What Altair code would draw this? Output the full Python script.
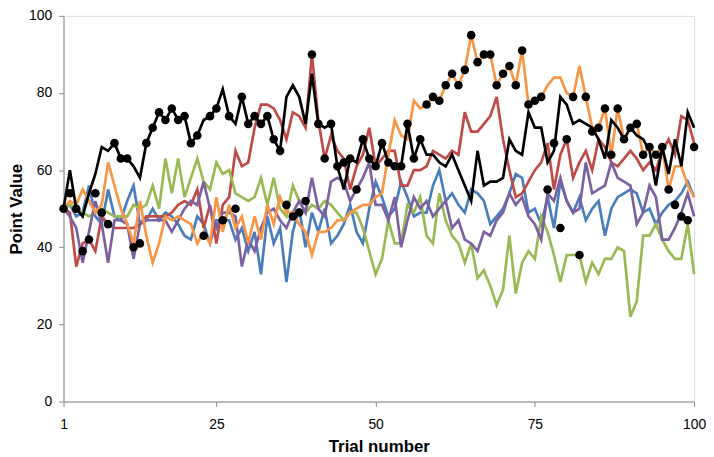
import altair as alt
import pandas as pd

trials = list(range(1, 101))

blue = [50, 51, 48, 49, 56, 48, 46, 55, 48, 47,
        52, 56, 46, 47, 50, 47, 49, 48, 46, 43,
        42, 48, 46, 41, 47, 47, 47, 42, 45, 39,
        44, 33, 48, 41, 45, 31, 44, 50, 40, 49,
        44, 50, 41, 43, 46, 51, 44, 41, 50, 57,
        53, 48, 50, 57, 53, 48, 49, 49, 56, 60,
        52, 54, 51, 49, 55, 54, 52, 46, 48, 50,
        54, 59, 58, 49, 50, 46, 53, 45, 57, 52,
        49, 53, 47, 50, 52, 43, 50, 53, 54, 55,
        54, 49, 50, 46, 49, 51, 52, 54, 57, 53]

red = [50, 49, 35, 41, 42, 39, 48, 46, 45, 45,
       45, 45, 46, 48, 48, 48, 48, 49, 51, 52,
       51, 55, 45, 51, 41, 51, 53, 65, 61, 62,
       71, 77, 77, 76, 73, 68, 75, 74, 71, 90,
       73, 63, 69, 65, 63, 55, 61, 64, 71, 61,
       63, 65, 65, 56, 56, 60, 60, 61, 65, 64,
       63, 65, 64, 75, 70, 70, 72, 74, 79, 68,
       60, 53, 54, 57, 60, 62, 67, 55, 64, 68,
       58, 62, 65, 60, 68, 66, 62, 61, 63, 65,
       63, 60, 62, 60, 65, 68, 64, 74, 73, 67]

green = [50, 51, 50, 49, 48, 49, 50, 49, 48, 48,
         48, 51, 50, 51, 56, 50, 63, 54, 63, 53,
         58, 63, 57, 55, 62, 59, 60, 54, 53, 52,
         53, 58, 51, 58, 50, 48, 56, 52, 49, 51,
         50, 52, 51, 49, 47, 49, 49, 45, 39, 33,
         37, 47, 41, 41, 51, 49, 53, 43, 41, 54,
         47, 43, 41, 36, 41, 32, 34, 30, 25, 29,
         43, 28, 36, 39, 37, 48, 44, 38, 31, 38,
         38, 38, 31, 36, 33, 37, 37, 40, 39, 22,
         26, 43, 43, 46, 42, 39, 37, 37, 46, 33]

purple = [50, 48, 45, 36, 44, 52, 46, 36, 47, 47,
          46, 37, 46, 47, 47, 47, 47, 44, 47, 50,
          52, 51, 57, 50, 45, 49, 49, 48, 35, 42,
          39, 45, 49, 50, 47, 45, 49, 52, 49, 58,
          50, 48, 57, 58, 57, 52, 55, 58, 62, 51,
          51, 47, 53, 40, 47, 53, 50, 52, 48, 50,
          52, 45, 47, 42, 41, 39, 44, 43, 47, 49,
          54, 51, 53, 48, 46, 42, 54, 52, 58, 52,
          49, 50, 62, 54, 55, 56, 62, 58, 57, 56,
          46, 49, 56, 53, 42, 42, 45, 49, 54, 48]

orange = [50, 52, 51, 55, 52, 49, 51, 62, 56, 50,
          46, 41, 52, 43, 36, 41, 48, 47, 48, 47,
          46, 41, 44, 41, 53, 44, 51, 45, 48, 41,
          48, 42, 51, 46, 53, 49, 49, 46, 44, 38,
          44, 44, 45, 47, 47, 49, 50, 51, 51, 53,
          54, 64, 73, 69, 68, 78, 76, 77, 79, 78,
          82, 85, 82, 86, 95, 88, 90, 90, 82, 85,
          87, 82, 91, 77, 78, 79, 82, 84, 84, 80,
          79, 87, 79, 71, 71, 76, 64, 76, 68, 71,
          72, 64, 66, 64, 66, 55, 61, 61, 56, 53]

black = [50, 60, 50, 48, 54, 59, 66, 65, 67, 63,
         63, 61, 58, 67, 71, 75, 73, 76, 73, 74,
         67, 69, 73, 74, 76, 81, 74, 72, 79, 72,
         74, 72, 74, 68, 65, 79, 82, 79, 72, 85,
         72, 71, 72, 61, 55, 63, 62, 68, 63, 61,
         67, 62, 61, 61, 72, 63, 68, 64, 64, 62,
         61, 64, 60, 56, 52, 65, 56, 57, 57, 58,
         68, 65, 64, 75, 71, 71, 62, 65, 79, 77,
         72, 73, 72, 71, 68, 63, 73, 71, 68, 71,
         69, 68, 65, 56, 66, 59, 68, 61, 75, 71]

choices = [50, 54, 50, 39, 42, 54, 49, 46, 67, 63,
           63, 40, 41, 67, 71, 75, 73, 76, 73, 74,
           67, 69, 43, 74, 76, 47, 74, 50, 79, 72,
           74, 72, 74, 68, 65, 51, 48, 49, 52, 90,
           72, 63, 72, 61, 62, 63, 55, 68, 63, 61,
           67, 62, 61, 61, 72, 63, 68, 77, 79, 78,
           82, 85, 82, 86, 95, 88, 90, 90, 82, 85,
           87, 82, 91, 77, 78, 79, 55, 67, 45, 68,
           79, 38, 79, 70, 71, 76, 64, 76, 68, 71,
           72, 64, 66, 64, 66, 55, 51, 48, 47, 66]

series = [("Blue", blue, "#4A7EBB"), ("Red", red, "#BE4B48"), ("Green", green, "#98B954"),
          ("Purple", purple, "#7D60A0"), ("Orange", orange, "#F79646"), ("Black", black, "#000000")]

FONT = "Liberation Sans"
x_enc = alt.X("trial:Q", scale=alt.Scale(domain=[1, 100], nice=False, zero=False),
              axis=alt.Axis(values=[1, 25, 50, 75, 100], title="Trial number", grid=False,
                            labelFontSize=14, titleFontSize=17, titleFontWeight="bold",
                            titlePadding=7, labelPadding=11, tickSize=5,
                            domainColor="#888888", tickColor="#888888",
                            labelColor="#000000", titleColor="#000000",
                            labelFont=FONT, titleFont=FONT, labelFlush=False))
y_enc = alt.Y("value:Q", scale=alt.Scale(domain=[0, 100], nice=False),
              axis=alt.Axis(values=[0, 20, 40, 60, 80, 100], title="Point Value", grid=False,
                            labelFontSize=14, titleFontSize=17, titleFontWeight="bold",
                            titlePadding=3, labelPadding=7, tickSize=5,
                            domainColor="#888888", tickColor="#888888",
                            labelColor="#000000", titleColor="#000000",
                            labelFont=FONT, titleFont=FONT))

layers = []
for name, vals, col in series:
    df = pd.DataFrame({"trial": trials, "value": vals})
    layers.append(alt.Chart(df).mark_line(color=col, strokeWidth=2.7).encode(x=x_enc, y=y_enc))

dots_df = pd.DataFrame({"trial": trials, "value": choices})
layers.append(alt.Chart(dots_df).mark_circle(color="#000000", size=75, opacity=1).encode(x=x_enc, y=y_enc))

chart = alt.layer(*layers).properties(
    width=636, height=389,
    autosize=alt.AutoSizeParams(type="none"),
    padding={"left": 56, "top": 6, "right": 12, "bottom": 54},
).configure_view(stroke=None).configure(background="white")

chart.save("out.html", embed_options={"renderer": "svg", "actions": False})
